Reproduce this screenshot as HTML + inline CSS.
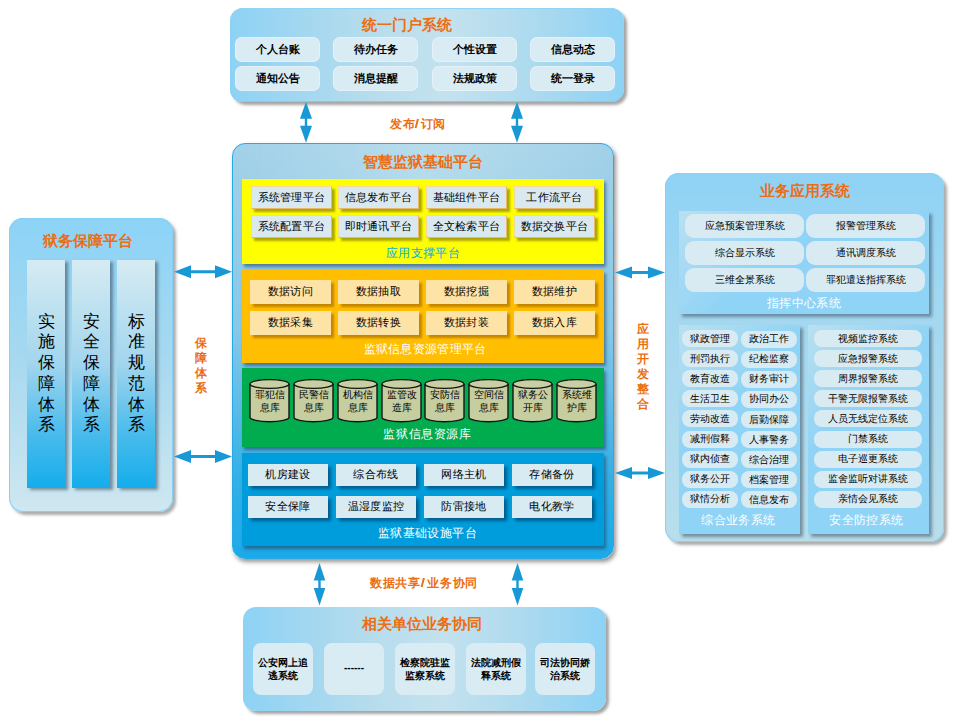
<!DOCTYPE html>
<html><head><meta charset="utf-8">
<style>
*{margin:0;padding:0;box-sizing:border-box}
html,body{width:959px;height:727px;background:#fff;overflow:hidden}
body{position:relative;font-family:"Liberation Sans",sans-serif;color:#000}
.a{position:absolute}
.ttl{position:absolute;color:#ec6e14;font-weight:bold;text-align:center;white-space:nowrap}
.cc{display:flex;align-items:center;justify-content:center;text-align:center;white-space:nowrap}
/* top portal */
#portal{left:230px;top:8px;width:394px;height:94px;border-radius:13px;
 background:linear-gradient(90deg,#8dd2f5 0%,#b6dcec 35%,#c4e2ee 55%,#a9d9ef 80%,#8dd2f5 100%);
 box-shadow:3px 3px 3px rgba(90,90,90,.55),inset 0 -1px 0 #7fcdf3,inset 0 1px 0 #93d4f5}
.pi{position:absolute;width:85px;height:24.5px;border-radius:7px;background:#d9ecf4;font-size:10.5px;font-weight:bold;box-shadow:inset 0 0 0 1px rgba(235,245,250,.6)}
/* main */
#main{left:232px;top:143px;width:382px;height:416px;border-radius:13px;border:1px solid #27a9e3;
 background:linear-gradient(180deg,#a3d1e8 0%,#86c8e8 45%,#35b0e6 80%,#1ba9ea 100%);
 box-shadow:2px 3px 4px rgba(80,80,80,.6)}
.layer{position:absolute;left:242px;width:362px;box-shadow:2px 3px 3px rgba(30,60,90,.55)}
.yi{font-weight:500;padding-bottom:1px;position:absolute;width:81px;height:23px;background:#dae9f0;border:1px solid #f3d9a0;border-right-color:#e9b868;border-bottom-color:#e9b868;font-size:11px;letter-spacing:.3px;box-shadow:3px 3px 2px rgba(120,110,0,.6)}
.oi{font-weight:500;padding-bottom:2px;position:absolute;width:81px;height:24px;background:#fde3a6;font-size:11px;letter-spacing:.4px;box-shadow:3px 3px 2px rgba(150,90,0,.55)}
.bi{font-weight:500;padding-bottom:1px;position:absolute;width:80px;height:22px;background:#d8eaf2;font-size:11px;letter-spacing:.3px;box-shadow:3px 3px 3px rgba(0,50,90,.6)}
.lbl{position:absolute;white-space:nowrap;text-align:center;font-size:12px!important}
.cyl{position:absolute;width:41px;height:44px}
.cyl svg{position:absolute;left:0;top:0}
.cyl span{position:absolute;left:0;top:10px;font-weight:500;width:41px;font-size:10px;line-height:12.5px;text-align:center}
/* left */
#left{left:9px;top:218px;width:164px;height:294px;border-radius:14px;
 background:linear-gradient(180deg,#8cd3f7 0%,#a8d9ef 50%,#cfe7f0 100%);
 box-shadow:3px 3px 3px rgba(90,90,90,.5),inset 0 0 0 1px #86cff5}
.col{position:absolute;top:260px;width:38px;height:228px;
 background:linear-gradient(180deg,#d6ebf2 0%,#a3d6ee 45%,#4cbcec 75%,#14adeb 100%);
 box-shadow:3px 2px 3px rgba(60,80,100,.6);font-size:17px;line-height:20.8px;text-align:center}
/* right */
#right{left:665px;top:173px;width:279px;height:369px;border-radius:14px;
 background:linear-gradient(180deg,#8fd2f5 0%,#a4d8f0 40%,#b9deeb 100%);
 box-shadow:3px 3px 3px rgba(90,90,90,.5),inset 0 0 0 1px #8ad1f5}
.panel{position:absolute;background:linear-gradient(135deg,#b9e0f0 0%,#8fd3f6 40%,#8fd3f6 100%);box-shadow:3px 3px 3px rgba(60,80,100,.55)}
.ri{font-weight:500;position:absolute;height:24px;border-radius:9px;background:#d9ebf2;font-size:10px}
.si{font-weight:500;position:absolute;height:17px;border-radius:8px;background:#d9ebf2;font-size:10px}
.plbl{position:absolute;color:#fff;font-size:12px;letter-spacing:.4px;text-align:center;white-space:nowrap}
/* bottom */
#bottom{left:243px;top:607px;width:363px;height:104px;border-radius:13px;
 background:linear-gradient(90deg,#8dd2f5 0%,#b6dcec 35%,#c4e2ee 55%,#a9d9ef 80%,#8dd2f5 100%);
 box-shadow:3px 3px 3px rgba(90,90,90,.55)}
.bt{position:absolute;top:643px;width:60px;height:52px;border-radius:8px;background:#d9ecf4;font-size:10px;font-weight:bold;line-height:13px;white-space:normal}
.sl{margin:0 1.5px 0 .5px;font-size:13px;display:inline-block;transform:scaleX(1.25)}
.vlab{position:absolute;color:#ec6e14;font-weight:bold;text-align:center}
</style></head><body>

<!-- ===== TOP PORTAL ===== -->
<div id="portal" class="a"></div>
<div class="ttl" style="left:210px;top:14px;width:394px;font-size:15px;line-height:22px">统一门户系统</div>
<div class="pi cc" style="left:235px;top:37.3px">个人台账</div>
<div class="pi cc" style="left:333px;top:37.3px">待办任务</div>
<div class="pi cc" style="left:432px;top:37.3px">个性设置</div>
<div class="pi cc" style="left:530px;top:37.3px">信息动态</div>
<div class="pi cc" style="left:235px;top:66.3px">通知公告</div>
<div class="pi cc" style="left:333px;top:66.3px">消息提醒</div>
<div class="pi cc" style="left:432px;top:66.3px">法规政策</div>
<div class="pi cc" style="left:530px;top:66.3px">统一登录</div>

<div class="ttl" style="left:380px;top:116px;width:76px;font-size:12px;line-height:16px;letter-spacing:.4px">发布<span class="sl">/</span>订阅</div>

<!-- ===== MAIN PLATFORM ===== -->
<div id="main" class="a"></div>
<div class="a" style="left:233px;top:144px;width:380px;height:120px;border-radius:12px 12px 0 0;background:linear-gradient(90deg,rgba(160,210,235,0) 0%,rgba(200,230,240,.55) 50%,rgba(160,210,235,0) 100%);-webkit-mask-image:linear-gradient(180deg,#000 0%,#000 30%,transparent 100%)"></div>
<div class="ttl" style="left:232px;top:151px;width:382px;font-size:15px;line-height:22px">智慧监狱基础平台</div>

<!-- yellow -->
<div class="layer" style="top:179px;height:85px;background:#ffff00"></div>
<div class="yi cc" style="left:251px;top:186px">系统管理平台</div>
<div class="yi cc" style="left:338px;top:186px">信息发布平台</div>
<div class="yi cc" style="left:426px;top:186px">基础组件平台</div>
<div class="yi cc" style="left:514px;top:186px">工作流平台</div>
<div class="yi cc" style="left:251px;top:215px">系统配置平台</div>
<div class="yi cc" style="left:338px;top:215px">即时通讯平台</div>
<div class="yi cc" style="left:426px;top:215px">全文检索平台</div>
<div class="yi cc" style="left:514px;top:215px">数据交换平台</div>
<div class="lbl" style="left:242px;top:244px;width:362px;font-size:13px;line-height:18px;color:#05aaee;letter-spacing:.4px;font-weight:500">应用支撑平台</div>

<!-- orange -->
<div class="layer" style="top:270px;height:93px;background:#ffbe00"></div>
<div class="oi cc" style="left:250px;top:280px">数据访问</div>
<div class="oi cc" style="left:338px;top:280px">数据抽取</div>
<div class="oi cc" style="left:426px;top:280px">数据挖掘</div>
<div class="oi cc" style="left:514px;top:280px">数据维护</div>
<div class="oi cc" style="left:250px;top:311px">数据采集</div>
<div class="oi cc" style="left:338px;top:311px">数据转换</div>
<div class="oi cc" style="left:426px;top:311px">数据封装</div>
<div class="oi cc" style="left:514px;top:311px">数据入库</div>
<div class="lbl" style="left:244px;top:340px;width:362px;font-size:13px;line-height:18px;color:#fff;letter-spacing:.3px">监狱信息资源管理平台</div>

<!-- green -->
<div class="layer" style="top:368px;height:79px;background:#00ac4d"></div>
<div class="cyl" style="left:249px;top:379px"><svg width="41" height="44" viewBox="0 0 41 44"><use href="#cy"/></svg><span>罪犯信<br>息库</span></div>
<div class="cyl" style="left:293px;top:379px"><svg width="41" height="44" viewBox="0 0 41 44"><use href="#cy"/></svg><span>民警信<br>息库</span></div>
<div class="cyl" style="left:337px;top:379px"><svg width="41" height="44" viewBox="0 0 41 44"><use href="#cy"/></svg><span>机构信<br>息库</span></div>
<div class="cyl" style="left:381px;top:379px"><svg width="41" height="44" viewBox="0 0 41 44"><use href="#cy"/></svg><span>监管改<br>造库</span></div>
<div class="cyl" style="left:424px;top:379px"><svg width="41" height="44" viewBox="0 0 41 44"><use href="#cy"/></svg><span>安防信<br>息库</span></div>
<div class="cyl" style="left:468px;top:379px"><svg width="41" height="44" viewBox="0 0 41 44"><use href="#cy"/></svg><span>空间信<br>息库</span></div>
<div class="cyl" style="left:512px;top:379px"><svg width="41" height="44" viewBox="0 0 41 44"><use href="#cy"/></svg><span>狱务公<br>开库</span></div>
<div class="cyl" style="left:556px;top:379px"><svg width="41" height="44" viewBox="0 0 41 44"><use href="#cy"/></svg><span>系统维<br>护库</span></div>

<div class="lbl" style="left:246.5px;top:425px;width:362px;font-size:13px;line-height:18px;color:#fff;letter-spacing:.6px">监狱信息资源库</div>

<!-- blue -->
<div class="layer" style="top:453px;height:93px;background:#009ddc"></div>
<div class="bi cc" style="left:248px;top:464px">机房建设</div>
<div class="bi cc" style="left:336px;top:464px">综合布线</div>
<div class="bi cc" style="left:424px;top:464px">网络主机</div>
<div class="bi cc" style="left:512px;top:464px">存储备份</div>
<div class="bi cc" style="left:248px;top:496px">安全保障</div>
<div class="bi cc" style="left:336px;top:496px">温湿度监控</div>
<div class="bi cc" style="left:424px;top:496px">防雷接地</div>
<div class="bi cc" style="left:512px;top:496px">电化教学</div>
<div class="lbl" style="left:246.5px;top:524px;width:362px;font-size:13px;line-height:18px;color:#fff;letter-spacing:.35px">监狱基础设施平台</div>

<div class="ttl" style="left:362px;top:575px;width:124px;font-size:12px;line-height:16px;letter-spacing:.7px">数据共享<span class="sl">/</span>业务协同</div>

<!-- ===== LEFT ===== -->
<div id="left" class="a"></div>
<div class="ttl" style="left:6px;top:231px;width:164px;font-size:15px;line-height:20px">狱务保障平台</div>
<div class="col" style="left:27px;padding-top:51.5px">实<br>施<br>保<br>障<br>体<br>系</div>
<div class="col" style="left:72px;padding-top:51.5px">安<br>全<br>保<br>障<br>体<br>系</div>
<div class="col" style="left:117px;padding-top:51.5px">标<br>准<br>规<br>范<br>体<br>系</div>
<div class="vlab" style="left:190.5px;top:336px;width:20px;font-size:12px;line-height:15.1px">保<br>障<br>体<br>系</div>

<!-- ===== RIGHT ===== -->
<div id="right" class="a"></div>
<div class="ttl" style="left:665px;top:181px;width:279px;font-size:15px;line-height:20px">业务应用系统</div>
<div class="panel" style="left:679px;top:211px;width:250px;height:103px"></div>
<div class="ri cc" style="left:685px;top:214px;width:119px">应急预案管理系统</div>
<div class="ri cc" style="left:806px;top:214px;width:119px">报警管理系统</div>
<div class="ri cc" style="left:685px;top:241px;width:119px">综合显示系统</div>
<div class="ri cc" style="left:806px;top:241px;width:119px">通讯调度系统</div>
<div class="ri cc" style="left:685px;top:268px;width:119px">三维全景系统</div>
<div class="ri cc" style="left:806px;top:268px;width:119px">罪犯遣送指挥系统</div>
<div class="plbl" style="left:679px;top:294px;width:250px;line-height:18px">指挥中心系统</div>

<div class="panel" style="left:679px;top:325px;width:121px;height:209px"></div>
<div class="panel" style="left:808px;top:325px;width:121px;height:209px"></div>
<div class="si cc" style="left:682px;top:330.0px;width:56px">狱政管理</div>
<div class="si cc" style="left:741px;top:330.6px;width:56px">政治工作</div>
<div class="si cc" style="left:814px;top:330.0px;width:108px">视频监控系统</div>
<div class="si cc" style="left:682px;top:350.1px;width:56px">刑罚执行</div>
<div class="si cc" style="left:741px;top:350.7px;width:56px">纪检监察</div>
<div class="si cc" style="left:814px;top:350.1px;width:108px">应急报警系统</div>
<div class="si cc" style="left:682px;top:370.2px;width:56px">教育改造</div>
<div class="si cc" style="left:741px;top:370.8px;width:56px">财务审计</div>
<div class="si cc" style="left:814px;top:370.2px;width:108px">周界报警系统</div>
<div class="si cc" style="left:682px;top:390.3px;width:56px">生活卫生</div>
<div class="si cc" style="left:741px;top:390.9px;width:56px">协同办公</div>
<div class="si cc" style="left:814px;top:390.3px;width:108px">干警无限报警系统</div>
<div class="si cc" style="left:682px;top:410.4px;width:56px">劳动改造</div>
<div class="si cc" style="left:741px;top:411.0px;width:56px">后勤保障</div>
<div class="si cc" style="left:814px;top:410.4px;width:108px">人员无线定位系统</div>
<div class="si cc" style="left:682px;top:430.5px;width:56px">减刑假释</div>
<div class="si cc" style="left:741px;top:431.1px;width:56px">人事警务</div>
<div class="si cc" style="left:814px;top:430.5px;width:108px">门禁系统</div>
<div class="si cc" style="left:682px;top:450.6px;width:56px">狱内侦查</div>
<div class="si cc" style="left:741px;top:451.2px;width:56px">综合治理</div>
<div class="si cc" style="left:814px;top:450.6px;width:108px">电子巡更系统</div>
<div class="si cc" style="left:682px;top:470.7px;width:56px">狱务公开</div>
<div class="si cc" style="left:741px;top:471.3px;width:56px">档案管理</div>
<div class="si cc" style="left:814px;top:470.7px;width:108px">监舍监听对讲系统</div>
<div class="si cc" style="left:682px;top:490.8px;width:56px">狱情分析</div>
<div class="si cc" style="left:741px;top:491.4px;width:56px">信息发布</div>
<div class="si cc" style="left:814px;top:490.8px;width:108px">亲情会见系统</div>

<div class="plbl" style="left:678px;top:511px;width:121px;line-height:18px">综合业务系统</div>
<div class="plbl" style="left:806px;top:511px;width:121px;line-height:18px">安全防控系统</div>
<div class="vlab" style="left:632.5px;top:322.4px;width:20px;font-size:12px;line-height:14.9px">应<br>用<br>开<br>发<br>整<br>合</div>

<!-- ===== BOTTOM ===== -->
<div id="bottom" class="a"></div>
<div class="ttl" style="left:240.5px;top:614px;width:363px;font-size:15px;line-height:20px">相关单位业务协同</div>
<div class="bt cc" style="left:253px">公安网上追<br>逃系统</div>
<div class="bt cc" style="left:324px;padding-bottom:4px">------</div>
<div class="bt cc" style="left:395px">检察院驻监<br>监察系统</div>
<div class="bt cc" style="left:466px">法院减刑假<br>释系统</div>
<div class="bt cc" style="left:535px">司法协同娇<br>治系统</div>

<!-- ===== ARROWS ===== -->
<svg width="0" height="0" style="position:absolute"><defs><g id="cy"><path d="M1,5 L1,38.3 A19.5,4.4 0 0 0 40,38.3 L40,5" fill="#c6cea0" stroke="#151515" stroke-width="1.4"/><ellipse cx="20.5" cy="5" rx="19.5" ry="4.4" fill="#c8d0a3" stroke="#151515" stroke-width="1.4"/></g></defs></svg>
<svg class="a" style="left:0;top:0" width="959" height="727" viewBox="0 0 959 727">
 <defs>
  <g id="va"><path d="M0,0 L6,17 L1.2,17 L1.2,24 L6,24 L0,41 L-6,24 L-1.2,24 L-1.2,17 L-6,17 Z" fill="#1899d6"/></g>
  <g id="vb"><path d="M0,0 L5.8,17.5 L1.2,17.5 L1.2,25 L5.8,25 L0,42.5 L-5.8,25 L-1.2,25 L-1.2,17.5 L-5.8,17.5 Z" fill="#1899d6"/></g>
  <g id="ha"><path d="M0,0 L17,-6.5 L17,-1.5 L41,-1.5 L41,-6.5 L58,0 L41,6.5 L41,1.5 L17,1.5 L17,6.5 Z" fill="#1899d6"/></g>
  <g id="hb"><path d="M0,0 L17,-6 L17,-1.6 L33,-1.6 L33,-6 L50,0 L33,6 L33,1.6 L17,1.6 L17,6 Z" fill="#1899d6"/></g>
 </defs>
 <use href="#va" x="306" y="101.8"/>
 <use href="#va" x="517" y="101.8"/>
 <use href="#vb" x="319.5" y="563"/>
 <use href="#vb" x="517.5" y="563"/>
 <use href="#ha" x="174" y="271.7"/>
 <use href="#ha" x="174" y="456.6"/>
 <use href="#hb" x="615" y="272.5"/>
 <use href="#hb" x="615" y="473"/>
</svg>


</body></html>
